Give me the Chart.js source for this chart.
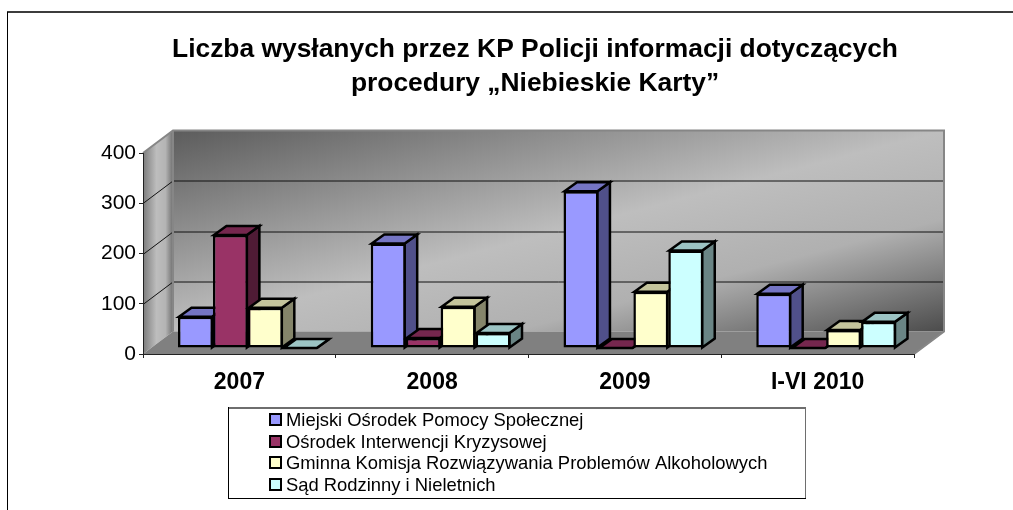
<!DOCTYPE html>
<html lang="pl">
<head>
<meta charset="utf-8">
<style>html,body{margin:0;padding:0;background:#fff}canvas{display:block}</style>
<script src="https://cdn.jsdelivr.net/npm/chart.js@4"></script>
</head>
<body>
<canvas id="c" width="1013" height="510"></canvas>
<script>
const categories = ['2007', '2008', '2009', 'I-VI 2010'];
const miejski = [62, 208, 312, 108];
const interwencja = [225, 20, 0, 0];
const komisja = [80, 82, 112, 36];
const sad = [0, 30, 194, 52];
const seriesNames = [
  'Miejski Ośrodek Pomocy Społecznej',
  'Ośrodek Interwencji Kryzysowej',
  'Gminna Komisja Rozwiązywania Problemów Alkoholowych',
  'Sąd Rodzinny i Nieletnich'
];
const frontColors = ['#9999FF', '#993366', '#FFFFCC', '#CCFFFF'];
const topColors = ['#7575C4', '#75274E', '#C4C49C', '#9CC4C4'];
const sideColors = ['#50508A', '#4F1B35', '#85856A', '#6A8585'];
const titleLines = ['Liczba wysłanych przez KP Policji informacji dotyczących', 'procedury „Niebieskie Karty”'];

const FONT = '"Liberation Sans", Arial, sans-serif';
const WALL = {dx: 30, dy: 22.5};
const BAR_OFFSET = {dx: 8.5, dy: -6};
const BAR_DEPTH = {dx: 12.5, dy: 9};
const BAR_LINE = 2.5;

function poly(ctx, pts, fill, stroke, lw) {
  ctx.beginPath();
  pts.forEach((p, i) => i ? ctx.lineTo(p[0], p[1]) : ctx.moveTo(p[0], p[1]));
  ctx.closePath();
  if (fill) { ctx.fillStyle = fill; ctx.fill(); }
  if (stroke) { ctx.strokeStyle = stroke; ctx.lineWidth = lw; ctx.lineJoin = 'miter'; ctx.stroke(); }
}

const scene = {
  id: 'scene',
  afterLayout(chart) {
    chart.titleBlock.left = 0;
    chart.titleBlock.right = 1070;
  },
  beforeDraw(chart) {
    const ctx = chart.ctx, a = chart.chartArea, yS = chart.scales.y;
    const L = a.left, R = a.right, T = a.top, B = a.bottom, dx = WALL.dx, dy = WALL.dy;
    ctx.save();
    // page frame
    ctx.fillStyle = '#3c3c3c'; ctx.fillRect(7, 11, 1006, 2);
    ctx.fillStyle = '#000'; ctx.fillRect(7, 12, 1, 498);
    // back wall
    const cx = (L + dx + R + dx) / 2, cy = (T - dy + B - dy) / 2;
    const g = ctx.createLinearGradient(cx - 49, cy - 188, cx + 49, cy + 188);
    g.addColorStop(0, '#5c5c5c'); g.addColorStop(0.5, '#bebebe'); g.addColorStop(0.72, '#b0b0b0'); g.addColorStop(1, '#4c4c4c');
    ctx.fillStyle = g;
    ctx.fillRect(L + dx, T - dy, R - L, B - T);
    // side wall
    const s = ctx.createLinearGradient(L, 0, L + dx, 0);
    s.addColorStop(0, '#7c7c7c'); s.addColorStop(0.45, '#bdbdbd'); s.addColorStop(0.75, '#b4b4b4'); s.addColorStop(1, '#707070');
    poly(ctx, [[L, T], [L + dx, T - dy], [L + dx, B - dy], [L, B]], s);
    // floor
    poly(ctx, [[L, B], [L + dx, B - dy], [R + dx, B - dy], [R, B]], '#808080');
    // gridlines
    ctx.strokeStyle = '#111'; ctx.lineWidth = 1;
    yS.ticks.forEach((t, i) => {
      if (t.value === 0 || t.value === 400) return;
      const y = Math.round(yS.getPixelForTick(i)) + 0.5;
      ctx.beginPath(); ctx.moveTo(L, y); ctx.lineTo(L + dx, y - dy); ctx.lineTo(R + dx, y - dy); ctx.stroke();
    });
    // wall edges
    ctx.strokeStyle = '#868686'; ctx.lineWidth = 2;
    ctx.beginPath();
    ctx.moveTo(L, T); ctx.lineTo(L + dx, T - dy); ctx.lineTo(R + dx, T - dy); ctx.lineTo(R + dx, B - dy); ctx.lineTo(R, B);
    ctx.moveTo(L + dx, T - dy); ctx.lineTo(L + dx, B - dy);
    ctx.stroke();
    ctx.restore();
  },
  beforeDatasetsDraw(chart) {
    // painter's order: left series first, so each bar's front hides its neighbour's side
    const ctx = chart.ctx, d = BAR_DEPTH;
    ctx.save();
    ctx.translate(BAR_OFFSET.dx, BAR_OFFSET.dy);
    chart.data.datasets.forEach((ds, i) => {
      const els = chart.getDatasetMeta(i).data;
      els.forEach(el => {
        const p = el.getProps(['x', 'y', 'base', 'width'], true);
        const l = p.x - p.width / 2 + 1, r = p.x + p.width / 2 - 1, t = p.y, b = p.base;
        poly(ctx, [[r, b], [r + d.dx, b - d.dy], [r + d.dx, t - d.dy], [r, t]], sideColors[i], '#000', BAR_LINE);
        poly(ctx, [[l, t], [l + d.dx, t - d.dy], [r + d.dx, t - d.dy], [r, t]], topColors[i], '#000', BAR_LINE);
        el.draw(ctx);
      });
    });
    ctx.restore();
    return false;
  },
  afterDraw(chart) {
    const ctx = chart.ctx;
    ctx.save();
    // legend box
    ctx.fillStyle = '#6e6e6e'; ctx.fillRect(228, 407, 578, 2); ctx.fillRect(805, 407, 1, 92);
    ctx.fillStyle = '#000'; ctx.fillRect(228, 407, 1, 92); ctx.fillRect(228, 498, 578, 1);
    const rows = [420, 442, 463, 485];
    chart.data.datasets.forEach((ds, i) => {
      ctx.fillStyle = ds.backgroundColor;
      ctx.strokeStyle = '#000'; ctx.lineWidth = 2;
      ctx.fillRect(270, rows[i] - 6, 11, 11);
      ctx.strokeRect(270, rows[i] - 6, 11, 11);
      ctx.fillStyle = '#000';
      ctx.font = '18.4px ' + FONT;
      ctx.textBaseline = 'middle'; ctx.textAlign = 'left';
      ctx.fillText(ds.label, 286, rows[i] + 1);
    });
    ctx.restore();
  }
};

const allValues = [miejski, interwencja, komisja, sad];
new Chart(document.getElementById('c'), {
  type: 'bar',
  plugins: [scene],
  data: {
    labels: categories,
    datasets: allValues.map((vals, i) => ({
      label: seriesNames[i],
      data: vals,
      backgroundColor: frontColors[i],
      borderColor: '#000',
      borderWidth: BAR_LINE,
      borderSkipped: false,
      categoryPercentage: 0.725,
      barPercentage: 1
    }))
  },
  options: {
    responsive: false,
    animation: false,
    layout: {padding: {left: 0, right: 99, top: 0, bottom: 0}},
    plugins: {
      legend: {display: false},
      tooltip: {enabled: false},
      title: {
        display: true,
        text: titleLines,
        color: '#000',
        font: {family: FONT, size: 26.4, weight: 'bold', lineHeight: '34.5px'},
        padding: {top: 32, bottom: 52}
      }
    },
    scales: {
      x: {
        afterFit(s) { s.height = 156; },
        grid: {drawOnChartArea: false, drawTicks: true, tickLength: 4, color: '#222'},
        border: {display: true, color: '#222', width: 1},
        ticks: {color: '#000', padding: 11, maxRotation: 0, font: {family: FONT, size: 23, weight: 'bold'}}
      },
      y: {
        min: 0, max: 400,
        afterFit(s) { s.width = 143; },
        grid: {drawOnChartArea: false, drawTicks: true, tickLength: 4, color: '#222'},
        border: {display: true, color: '#222', width: 1},
        ticks: {stepSize: 100, color: '#000', padding: 3, font: {family: FONT, size: 21}}
      }
    }
  }
});
</script>
</body>
</html>
